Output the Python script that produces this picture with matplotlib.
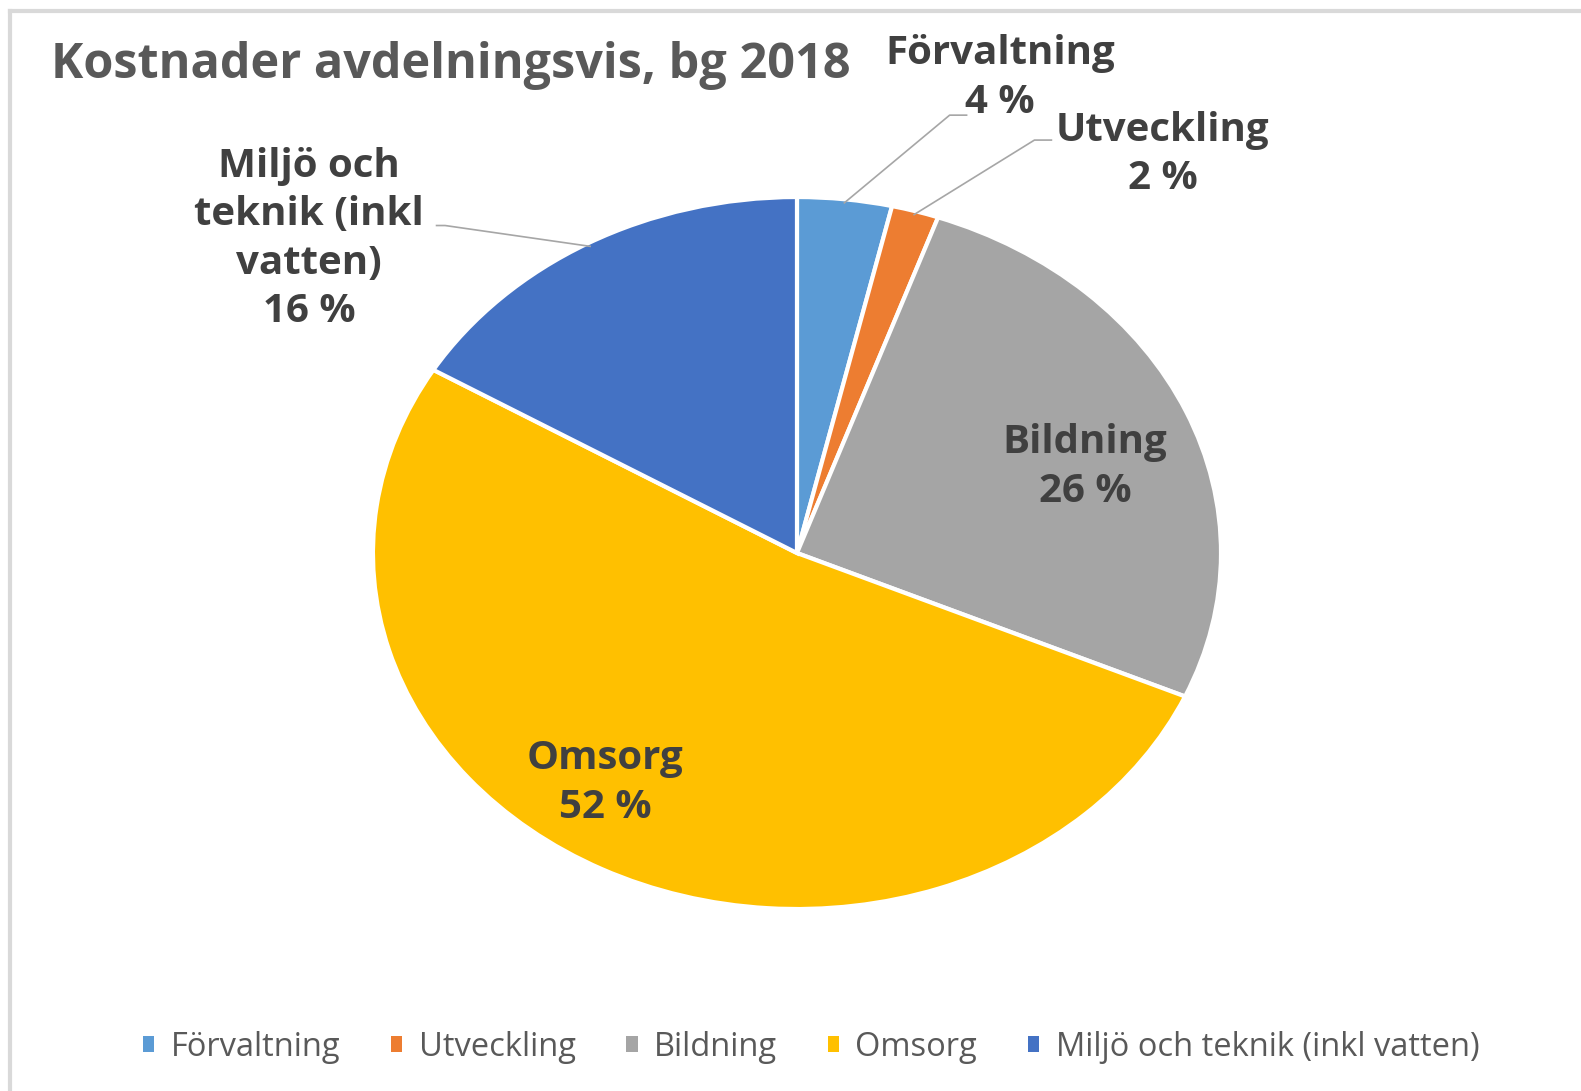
import numpy as np
import matplotlib.pyplot as plt
from matplotlib.patches import Patch
from matplotlib.lines import Line2D

# data (percent of total cost)
names = ['Förvaltning', 'Utveckling', 'Bildning', 'Omsorg', 'Miljö och teknik (inkl vatten)']
label_names = ['Förvaltning', 'Utveckling', 'Bildning', 'Omsorg', 'Miljö och\nteknik (inkl\nvatten)']
shares = [3.6, 1.8, 26.2, 52.0, 16.4]
colors = ['#5B9BD5', '#ED7D31', '#A5A5A5', '#FFC000', '#4472C4']

plt.rcParams['font.family'] = ['Open Sans', 'DejaVu Sans']
txt_col = '#404040'

fig = plt.figure(figsize=(15.81, 10.91), dpi=100)

# light grey frame (top and left edge only, the rest is cut off)
fig.add_artist(Line2D([0.0065, 1.0], [0.9895, 0.9895], color='#D9D9D9', lw=3))
fig.add_artist(Line2D([0.0065, 0.0065], [0.0, 0.9895], color='#D9D9D9', lw=3))

# the pie is stretched sideways in the reference, so aspect is auto
ax = fig.add_axes([0.2359, 0.1668, 0.5364, 0.6526])
wedges, _ = ax.pie(shares, colors=colors, startangle=90, counterclock=False,
                   radius=1.0, wedgeprops=dict(edgecolor='white', linewidth=3))
ax.set_aspect('auto')
ax.set_xlim(-1, 1)
ax.set_ylim(-1, 1)
ax.axis('off')

# label spots (data units of the pie axes) and whether a leader line is drawn
label_pos = [(0.479, 1.335), (0.863, 1.12), (0.679, 0.242), (-0.453, -0.646), (-1.15, 0.882)]
leader = [True, True, False, False, True]
elbow = [(0.36, 1.23), (0.56, 1.16), None, None, (-0.83, 0.92)]

for w, name, val, (lx, ly), has_line, el in zip(wedges, label_names, shares,
                                                 label_pos, leader, elbow):
    txt = f'{name}\n{round(val):d} %'
    ax.text(lx, ly, txt, ha='center', va='center', fontsize=29, fontweight='bold',
            color=txt_col, linespacing=1.32, clip_on=False)
    if has_line:
        mid = np.deg2rad((w.theta1 + w.theta2) / 2)
        px, py = 0.99 * np.cos(mid), 0.99 * np.sin(mid)
        if name.startswith('Miljö'):
            xs, ys = [px, el[0], el[0] - 0.02], [py, el[1], el[1]]
        else:
            xs, ys = [px, el[0], el[0] + 0.04], [py, el[1], el[1]]
        ax.plot(xs, ys, color='#A6A6A6', lw=1.2, clip_on=False)

fig.text(0.032, 0.94, 'Kostnader avdelningsvis, bg 2018', fontsize=35,
         fontweight='bold', color='#595959', va='center', ha='left')

handles = [Patch(facecolor=c, edgecolor='none') for c in colors]
fig.legend(handles, names, loc='center', bbox_to_anchor=(0.513, 0.04), ncol=5,
           frameon=False, fontsize=23.5, labelcolor='#595959', handlelength=0.35,
           handleheight=0.35, handletextpad=0.5, columnspacing=1.55)

fig.savefig('out.png', dpi=100, facecolor='white')
